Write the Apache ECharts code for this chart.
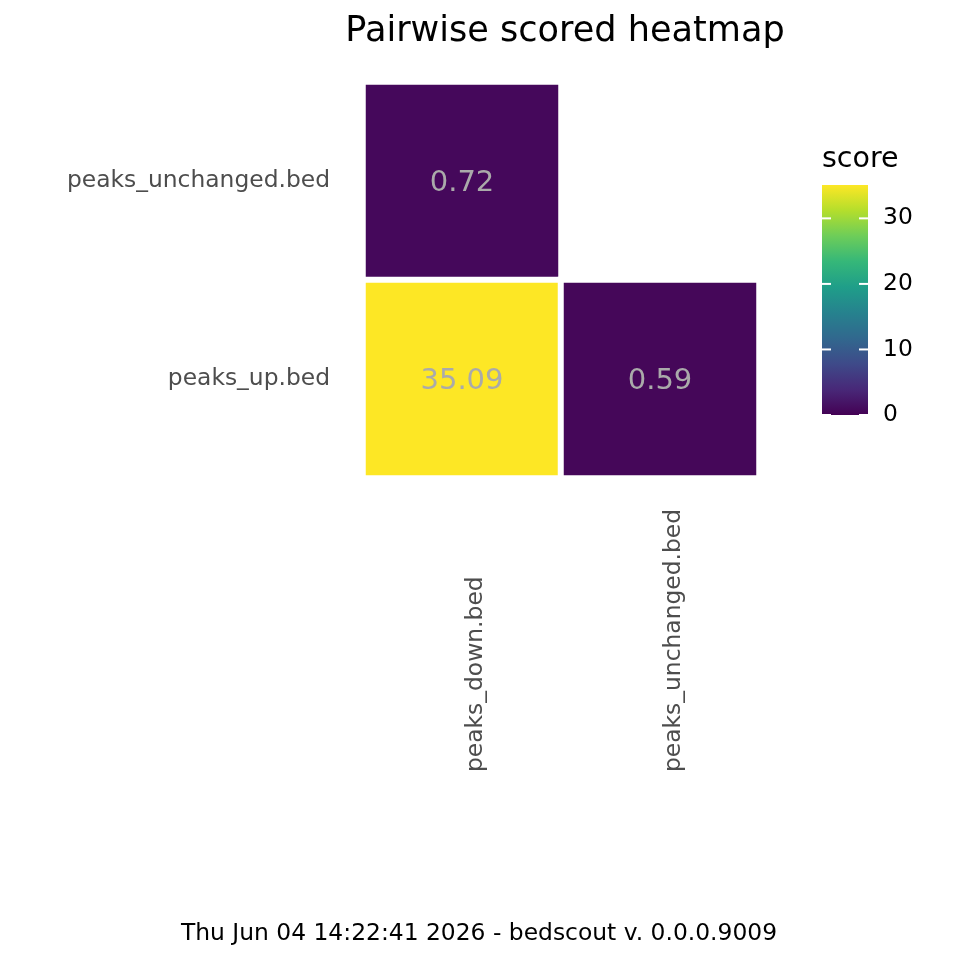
<!DOCTYPE html>
<html>
<head>
<meta charset="utf-8">
<script src="https://cdn.jsdelivr.net/npm/echarts@6/dist/echarts.min.js"></script>
<style>html,body{margin:0;padding:0;background:#fff}#chart{width:960px;height:960px}</style>
</head>
<body>
<div id="chart"></div>
<script>
const xCategories = ['peaks_down.bed', 'peaks_unchanged.bed'];
const yCategories = ['peaks_up.bed', 'peaks_unchanged.bed'];
const cellXNames = ['peaks_down.bed', 'peaks_down.bed', 'peaks_unchanged.bed'];
const cellYNames = ['peaks_unchanged.bed', 'peaks_up.bed', 'peaks_up.bed'];
const scoreValues = [0.72, 35.09, 0.59];
const scoreMin = 0;
const scoreMax = 35.09;
const legendTicks = [0, 10, 20, 30];
const titleText = 'Pairwise scored heatmap';
const legendTitle = 'score';
const footerText = 'Thu Jun 04 14:22:41 2026 - bedscout v. 0.0.0.9009';

const viridis = ['#440154', '#482878', '#3E4A89', '#31688E', '#26828E', '#1F9E89', '#35B779', '#6DCD59', '#B4DE2C', '#FDE725'];

const heatData = scoreValues.map((v, i) => [
  xCategories.indexOf(cellXNames[i]),
  yCategories.indexOf(cellYNames[i]),
  v
]);
const tickData = legendTicks.map(v => [0, v]);
const barData = [[scoreMin, scoreMax]];

const chart = echarts.init(document.getElementById('chart'), null, {renderer: 'canvas'});
const FONT = 'DejaVu Sans';
const TICK_LEN = 9;
const gradient = {
  type: 'linear', x: 0, y: 1, x2: 0, y2: 0,
  colorStops: viridis.map((c, i) => ({offset: i / (viridis.length - 1), color: c}))
};

chart.setOption({
  animation: false,
  backgroundColor: '#ffffff',
  textStyle: {fontFamily: FONT},
  title: [
    {text: titleText, left: 565, top: 14, padding: 0, textAlign: 'center',
     textStyle: {fontFamily: FONT, fontSize: 35.1, fontWeight: 'normal', color: '#000000'}},
    {text: legendTitle, left: 822, top: 145, padding: 0,
     textStyle: {fontFamily: FONT, fontSize: 28.5, fontWeight: 'normal', color: '#000000'}},
    {text: footerText, left: 479, top: 922, padding: 0, textAlign: 'center',
     textStyle: {fontFamily: FONT, fontSize: 23.4, fontWeight: 'normal', color: '#000000'}}
  ],
  grid: [
    {left: 363, top: 82, width: 396, height: 396, containLabel: false},
    {left: 822, top: 185, width: 46, height: 230, containLabel: false}
  ],
  xAxis: [
    {type: 'category', data: xCategories, gridIndex: 0,
     axisLine: {show: false}, axisTick: {show: false}, splitLine: {show: false},
     axisLabel: {rotate: 90, align: 'left', verticalAlign: 'top', margin: 294, padding: [2, 0, 0, 0],
       fontSize: 23.4, color: '#4d4d4d', fontFamily: FONT}},
    {type: 'value', gridIndex: 1, show: false, min: 0, max: 1}
  ],
  yAxis: [
    {type: 'category', data: yCategories, gridIndex: 0,
     axisLine: {show: false}, axisTick: {show: false}, splitLine: {show: false},
     axisLabel: {margin: 33, padding: [8, 0, 0, 0], fontSize: 23.4, color: '#4d4d4d', fontFamily: FONT}},
    {type: 'value', gridIndex: 1, position: 'right', min: scoreMin, max: scoreMax, z: 10,
     axisLine: {show: false}, splitLine: {show: false}, axisTick: {show: false},
     axisLabel: {customValues: legendTicks.slice(), margin: 15, padding: [6, 0, 0, 0], fontSize: 23.4, color: '#000000', fontFamily: FONT}}
  ],
  visualMap: {
    type: 'continuous', min: scoreMin, max: scoreMax, dimension: 2, seriesIndex: 0,
    show: false,
    inRange: {color: viridis}
  },
  series: [{
    type: 'heatmap', xAxisIndex: 0, yAxisIndex: 0, data: heatData,
    label: {show: true, formatter: p => p.value[2].toFixed(2), fontSize: 29, color: '#aaaaaa', fontFamily: FONT, offset: [0, 2]},
    itemStyle: {borderColor: '#ffffff', borderWidth: 6},
    emphasis: {disabled: true}
  }, {
    type: 'custom', xAxisIndex: 1, yAxisIndex: 1, z: 5, silent: true,
    data: barData, encode: {y: [0, 1]},
    renderItem: function (params, api) {
      const p0 = api.coord([0, api.value(1)]);
      const p1 = api.coord([1, api.value(0)]);
      return {type: 'rect', shape: {x: p0[0], y: p0[1], width: p1[0] - p0[0], height: p1[1] - p0[1]},
        style: {fill: gradient}};
    }
  }, {
    type: 'custom', xAxisIndex: 1, yAxisIndex: 1, z: 10, silent: true,
    data: tickData, encode: {x: 0, y: 1},
    renderItem: function (params, api) {
      const v = api.value(1);
      const pl = api.coord([0, v]);
      const pr = api.coord([1, v]);
      const st = {stroke: '#ffffff', lineWidth: 2};
      return {type: 'group', children: [
        {type: 'line', shape: {x1: pl[0], y1: pl[1], x2: pl[0] + TICK_LEN, y2: pl[1]}, style: st},
        {type: 'line', shape: {x1: pr[0] - TICK_LEN, y1: pr[1], x2: pr[0], y2: pr[1]}, style: st}
      ]};
    }
  }]
});
</script>
</body>
</html>
